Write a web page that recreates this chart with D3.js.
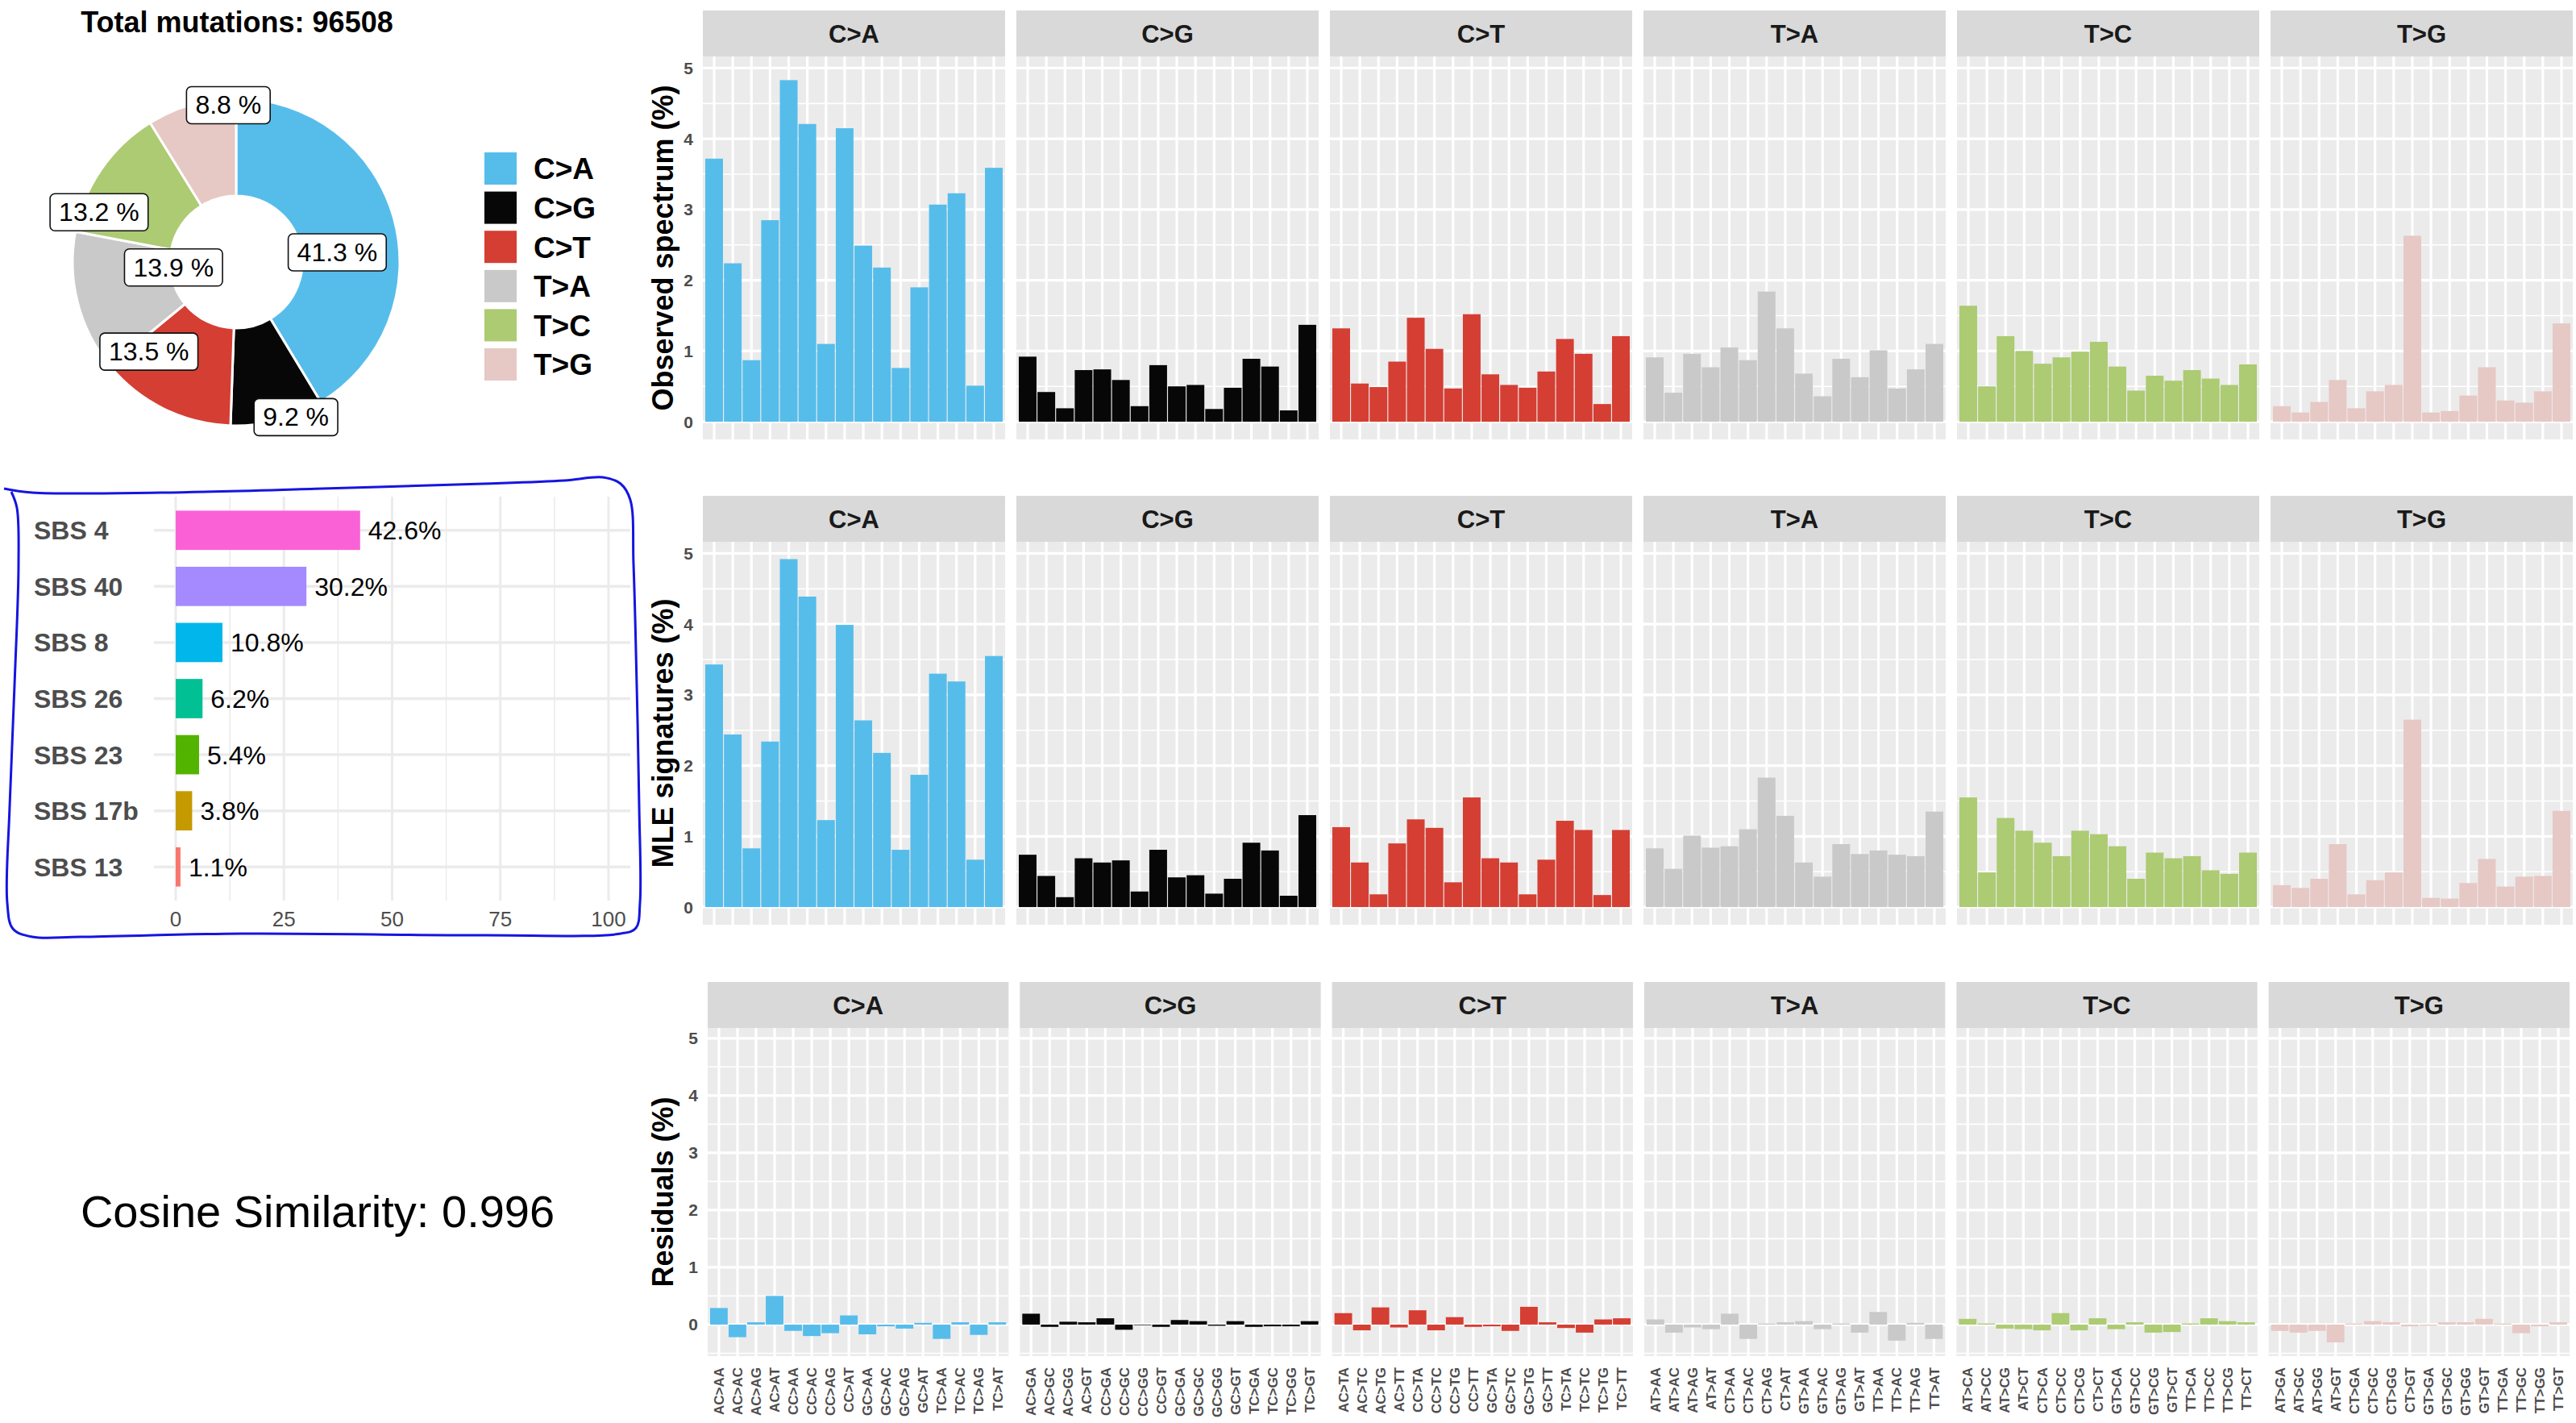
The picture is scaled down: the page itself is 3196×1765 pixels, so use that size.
<!DOCTYPE html>
<html>
<head>
<meta charset="utf-8">
<script src="https://cdn.jsdelivr.net/npm/d3@7"></script>
<style>
  body { margin: 0; background: #fff; }
  text { font-family: "Liberation Sans", Arial, sans-serif; }
</style>
</head>
<body>
<script>
// chart data
const totalMutations = 96508;
const mutationTypes = ["C>A", "C>G", "C>T", "T>A", "T>C", "T>G"];
const typeColors = ["#56BDEB", "#070707", "#D53E33", "#CAC9C9", "#ACCB73", "#E6C8C5"];
const typeShares = [41.3, 9.2, 13.5, 13.9, 13.2, 8.8];

const signatures = ["SBS 4", "SBS 40", "SBS 8", "SBS 26", "SBS 23", "SBS 17b", "SBS 13"];
const signatureShares = [42.6, 30.2, 10.8, 6.2, 5.4, 3.8, 1.1];
const signatureColors = ["#FB61D7", "#A58AFF", "#00B6EB", "#00C094", "#53B400", "#C49A00", "#F8766D"];
const contributionTicks = [0, 25, 50, 75, 100];
const cosineSimilarity = 0.996;

const spectrumTicks = [0, 1, 2, 3, 4, 5];
const contexts = [
  ["AC>AA","AC>AC","AC>AG","AC>AT","CC>AA","CC>AC","CC>AG","CC>AT","GC>AA","GC>AC","GC>AG","GC>AT","TC>AA","TC>AC","TC>AG","TC>AT"],
  ["AC>GA","AC>GC","AC>GG","AC>GT","CC>GA","CC>GC","CC>GG","CC>GT","GC>GA","GC>GC","GC>GG","GC>GT","TC>GA","TC>GC","TC>GG","TC>GT"],
  ["AC>TA","AC>TC","AC>TG","AC>TT","CC>TA","CC>TC","CC>TG","CC>TT","GC>TA","GC>TC","GC>TG","GC>TT","TC>TA","TC>TC","TC>TG","TC>TT"],
  ["AT>AA","AT>AC","AT>AG","AT>AT","CT>AA","CT>AC","CT>AG","CT>AT","GT>AA","GT>AC","GT>AG","GT>AT","TT>AA","TT>AC","TT>AG","TT>AT"],
  ["AT>CA","AT>CC","AT>CG","AT>CT","CT>CA","CT>CC","CT>CG","CT>CT","GT>CA","GT>CC","GT>CG","GT>CT","TT>CA","TT>CC","TT>CG","TT>CT"],
  ["AT>GA","AT>GC","AT>GG","AT>GT","CT>GA","CT>GC","CT>GG","CT>GT","GT>GA","GT>GC","GT>GG","GT>GT","TT>GA","TT>GC","TT>GG","TT>GT"]
];
const observed = [
  [3.72, 2.24, 0.87, 2.85, 4.83, 4.21, 1.10, 4.15, 2.49, 2.18, 0.76, 1.90, 3.07, 3.23, 0.51, 3.59],
  [0.92, 0.42, 0.19, 0.73, 0.74, 0.59, 0.22, 0.80, 0.50, 0.52, 0.18, 0.48, 0.89, 0.78, 0.16, 1.37],
  [1.32, 0.54, 0.49, 0.85, 1.47, 1.03, 0.47, 1.52, 0.67, 0.52, 0.48, 0.71, 1.17, 0.96, 0.25, 1.21],
  [0.91, 0.41, 0.96, 0.77, 1.05, 0.87, 1.84, 1.32, 0.68, 0.36, 0.89, 0.63, 1.01, 0.47, 0.74, 1.10],
  [1.64, 0.50, 1.21, 1.00, 0.82, 0.91, 0.99, 1.13, 0.78, 0.44, 0.65, 0.58, 0.73, 0.61, 0.52, 0.81],
  [0.22, 0.13, 0.28, 0.59, 0.19, 0.43, 0.52, 2.63, 0.13, 0.15, 0.37, 0.77, 0.30, 0.27, 0.43, 1.39]
];
const fitted = [
  [3.43, 2.44, 0.83, 2.34, 4.92, 4.39, 1.23, 3.99, 2.64, 2.18, 0.81, 1.87, 3.30, 3.19, 0.67, 3.55],
  [0.74, 0.44, 0.14, 0.69, 0.63, 0.66, 0.22, 0.81, 0.42, 0.45, 0.19, 0.40, 0.91, 0.80, 0.16, 1.30],
  [1.13, 0.63, 0.18, 0.90, 1.24, 1.12, 0.35, 1.55, 0.69, 0.63, 0.18, 0.67, 1.22, 1.09, 0.17, 1.09],
  [0.83, 0.54, 1.01, 0.84, 0.86, 1.10, 1.83, 1.29, 0.63, 0.43, 0.89, 0.75, 0.80, 0.74, 0.72, 1.35],
  [1.55, 0.49, 1.26, 1.08, 0.91, 0.72, 1.08, 1.03, 0.86, 0.40, 0.77, 0.69, 0.72, 0.52, 0.47, 0.77],
  [0.31, 0.27, 0.40, 0.89, 0.18, 0.38, 0.49, 2.65, 0.13, 0.12, 0.34, 0.68, 0.29, 0.43, 0.44, 1.36]
];
const residuals = [
  [0.29, -0.22, 0.04, 0.50, -0.11, -0.20, -0.15, 0.16, -0.17, -0.03, -0.07, 0.03, -0.25, 0.04, -0.18, 0.04],
  [0.19, -0.04, 0.05, 0.04, 0.11, -0.09, -0.01, -0.04, 0.08, 0.06, -0.02, 0.06, -0.04, -0.03, -0.03, 0.06],
  [0.20, -0.10, 0.30, -0.05, 0.25, -0.10, 0.13, -0.04, -0.03, -0.11, 0.31, 0.04, -0.06, -0.14, 0.09, 0.11],
  [0.09, -0.14, -0.05, -0.08, 0.19, -0.25, 0.02, 0.04, 0.06, -0.08, 0.02, -0.14, 0.22, -0.28, 0.03, -0.25],
  [0.10, 0.02, -0.07, -0.08, -0.10, 0.20, -0.10, 0.11, -0.08, 0.04, -0.14, -0.13, 0.02, 0.11, 0.06, 0.04],
  [-0.11, -0.14, -0.11, -0.31, 0.02, 0.06, 0.04, -0.03, -0.02, 0.04, 0.04, 0.10, 0.02, -0.15, -0.03, 0.04]
];

// layout
const W = 3196, H = 1765;
const GREY = "#4D4D4D";
// label nudges around the donut (repelled positions): radius and angle shift in degrees
const pieLabelNudge = [
  { r: 126, da: 10 }, { r: 206, da: -6.5 }, { r: 155, da: 18 },
  { r: 78, da: 9.5 }, { r: 181, da: -14.5 }, { r: 195, da: 13 }
];

const svg = d3.select("body").append("svg")
    .attr("width", W)
    .attr("height", H);

svg.append("rect").attr("width", W).attr("height", H).attr("fill", "#fff");

// ---------- donut of mutation types ----------
svg.append("text")
    .attr("x", 294)
    .attr("y", 40)
    .attr("text-anchor", "middle")
    .attr("font-size", 36)
    .attr("font-weight", "bold")
    .text(`Total mutations: ${totalMutations}`);

const pieG = svg.append("g").attr("transform", "translate(293,325)");
const arcs = d3.pie().sort(null).value(d => d)(typeShares);
const arc = d3.arc().innerRadius(82).outerRadius(203);

pieG.selectAll("path")
  .data(arcs)
  .join("path")
    .attr("d", arc)
    .attr("fill", (d, i) => typeColors[i])
    .attr("stroke", "#fff")
    .attr("stroke-width", 3);

const pieLabels = pieG.selectAll("g.pie-label")
  .data(arcs)
  .join("g")
    .attr("class", "pie-label")
    .attr("transform", (d, i) => {
      const a = (d.startAngle + d.endAngle) / 2 + pieLabelNudge[i].da * Math.PI / 180;
      const r = pieLabelNudge[i].r;
      return `translate(${Math.sin(a) * r},${-Math.cos(a) * r})`;
    });

pieLabels.append("text")
    .attr("text-anchor", "middle")
    .attr("dy", "0.35em")
    .attr("font-size", 32)
    .text(d => `${d.data} %`);

pieLabels.each(function() {
  const g = d3.select(this);
  const b = g.select("text").node().getBBox();
  g.insert("rect", "text")
      .attr("x", b.x - 11)
      .attr("y", b.y - 5)
      .attr("width", b.width + 22)
      .attr("height", b.height + 10)
      .attr("rx", 6)
      .attr("fill", "#fff")
      .attr("stroke", "#111")
      .attr("stroke-width", 1.6);
});

// legend
const legend = svg.append("g").attr("transform", "translate(601,189)");
const legendItem = legend.selectAll("g")
  .data(mutationTypes)
  .join("g")
    .attr("transform", (d, i) => `translate(0,${i * 48.6})`);
legendItem.append("rect")
    .attr("width", 40)
    .attr("height", 40)
    .attr("fill", (d, i) => typeColors[i]);
legendItem.append("text")
    .attr("x", 61)
    .attr("y", 20)
    .attr("dy", "0.36em")
    .attr("font-size", 37)
    .attr("font-weight", "bold")
    .text(d => d);

// ---------- signature contributions ----------
const cx = d3.scaleLinear().domain([0, 100]).range([218, 755]);
const cy = d3.scalePoint().domain(signatures).range([616, 1117]).padding(0.6);
const barH = cy.step() * 0.7;

const contrib = svg.append("g");

// minor and major grid
contrib.selectAll("line.minor")
  .data(d3.range(12.5, 100, 25))
  .join("line")
    .attr("x1", d => cx(d)).attr("x2", d => cx(d))
    .attr("y1", 616).attr("y2", 1117)
    .attr("stroke", "#EBEBEB").attr("stroke-width", 1.5);
contrib.selectAll("line.major")
  .data(contributionTicks)
  .join("line")
    .attr("x1", d => cx(d)).attr("x2", d => cx(d))
    .attr("y1", 616).attr("y2", 1117)
    .attr("stroke", "#EBEBEB").attr("stroke-width", 3);
contrib.selectAll("line.hgrid")
  .data(signatures)
  .join("line")
    .attr("x1", 191).attr("x2", 782)
    .attr("y1", d => cy(d)).attr("y2", d => cy(d))
    .attr("stroke", "#EBEBEB").attr("stroke-width", 3.5);

contrib.selectAll("rect")
  .data(signatures)
  .join("rect")
    .attr("x", cx(0))
    .attr("y", d => cy(d) - barH / 2)
    .attr("width", (d, i) => cx(signatureShares[i]) - cx(0))
    .attr("height", barH)
    .attr("fill", (d, i) => signatureColors[i]);

contrib.selectAll("text.value")
  .data(signatures)
  .join("text")
    .attr("x", (d, i) => cx(signatureShares[i]) + 10)
    .attr("y", d => cy(d))
    .attr("dy", "0.36em")
    .attr("font-size", 32)
    .text((d, i) => `${signatureShares[i]}%`);

contrib.selectAll("text.sig")
  .data(signatures)
  .join("text")
    .attr("x", 42)
    .attr("y", d => cy(d))
    .attr("dy", "0.36em")
    .attr("font-size", 32)
    .attr("font-weight", "bold")
    .attr("fill", GREY)
    .text(d => d);

contrib.selectAll("text.tick")
  .data(contributionTicks)
  .join("text")
    .attr("x", d => cx(d))
    .attr("y", 1140)
    .attr("dy", "0.36em")
    .attr("text-anchor", "middle")
    .attr("font-size", 26)
    .attr("fill", GREY)
    .text(d => d);

// hand drawn outline round the contributions
const outline = [[5,606],[40,611],[200,611],[400,606],[600,600],[700,596],[748,592],[770,600],[782,620],
  [786,700],[790,850],[793,1000],[794,1120],[789,1151],[770,1158],[600,1160],[300,1158],[100,1162],
  [40,1162],[16,1152],[9,1120],[12,1000],[18,850],[23,700],[21,630],[14,610]];
svg.append("path")
    .attr("d", d3.line().curve(d3.curveCatmullRom)(outline))
    .attr("fill", "none")
    .attr("stroke", "#1515E0")
    .attr("stroke-width", 3);

svg.append("text")
    .attr("x", 394)
    .attr("y", 1502)
    .attr("dy", "0.36em")
    .attr("text-anchor", "middle")
    .attr("font-size", 56)
    .text(`Cosine Similarity: ${cosineSimilarity}`);

// ---------- faceted spectra ----------
const rows = [
  { title: "Observed spectrum (%)", values: observed, stripTop: 13, top: 70, bottom: 545, left: 872, right: 3192, domain: [-0.25, 5.165], xLabels: false },
  { title: "MLE signatures (%)", values: fitted, stripTop: 615, top: 672, bottom: 1147, left: 872, right: 3192, domain: [-0.25, 5.165], xLabels: false },
  { title: "Residuals (%)", values: residuals, stripTop: 1218, top: 1275, bottom: 1682, left: 878, right: 3188, domain: [-0.55, 5.18], xLabels: true }
];
const gap = 14;

rows.forEach(row => {
  const g = svg.append("g");
  const pw = (row.right - row.left - gap * 5) / 6;
  const y = d3.scaleLinear().domain(row.domain).range([row.bottom, row.top]);
  const minorTicks = d3.range(-0.5, 5.5, 1).filter(v => v > row.domain[0] && v < row.domain[1]);

  mutationTypes.forEach((type, p) => {
    const x0 = row.left + p * (pw + gap);
    const x = d3.scaleBand()
        .domain(contexts[p])
        .range([x0, x0 + pw])
        .paddingInner(0.05)
        .paddingOuter(0.13);
    const panel = g.append("g");

    // strip
    panel.append("rect")
        .attr("x", x0).attr("y", row.stripTop)
        .attr("width", pw).attr("height", row.top - row.stripTop)
        .attr("fill", "#D9D9D9");
    panel.append("text")
        .attr("x", x0 + pw / 2)
        .attr("y", (row.stripTop + row.top) / 2)
        .attr("dy", "0.36em")
        .attr("text-anchor", "middle")
        .attr("font-size", 31)
        .attr("font-weight", "bold")
        .attr("fill", "#1A1A1A")
        .text(type);

    // panel background and grid
    panel.append("rect")
        .attr("x", x0).attr("y", row.top)
        .attr("width", pw).attr("height", row.bottom - row.top)
        .attr("fill", "#EBEBEB");
    panel.selectAll("line.minor")
      .data(minorTicks)
      .join("line")
        .attr("x1", x0).attr("x2", x0 + pw)
        .attr("y1", d => y(d)).attr("y2", d => y(d))
        .attr("stroke", "#fff").attr("stroke-width", 1.6);
    panel.selectAll("line.major")
      .data(spectrumTicks)
      .join("line")
        .attr("x1", x0).attr("x2", x0 + pw)
        .attr("y1", d => y(d)).attr("y2", d => y(d))
        .attr("stroke", "#fff").attr("stroke-width", 3.2);
    panel.selectAll("line.vgrid")
      .data(contexts[p])
      .join("line")
        .attr("x1", d => x(d) + x.bandwidth() / 2).attr("x2", d => x(d) + x.bandwidth() / 2)
        .attr("y1", row.top).attr("y2", row.bottom)
        .attr("stroke", "#fff").attr("stroke-width", 3.2);

    // bars
    panel.selectAll("rect.bar")
      .data(contexts[p])
      .join("rect")
        .attr("x", d => x(d))
        .attr("width", x.bandwidth())
        .attr("y", (d, i) => y(Math.max(0, row.values[p][i])))
        .attr("height", (d, i) => Math.abs(y(row.values[p][i]) - y(0)))
        .attr("fill", typeColors[p]);

    // context labels
    if (row.xLabels) {
      panel.selectAll("text.ctx")
        .data(contexts[p])
        .join("text")
          .attr("transform", d => `translate(${x(d) + x.bandwidth() / 2},${row.bottom + 14}) rotate(-90)`)
          .attr("dy", "0.36em")
          .attr("text-anchor", "end")
          .attr("font-size", 17)
          .attr("font-weight", "bold")
          .attr("fill", GREY)
          .text(d => d);
    }
  });

  // y axis labels
  g.selectAll("text.ytick")
    .data(spectrumTicks)
    .join("text")
      .attr("x", row.left - 12)
      .attr("y", d => y(d))
      .attr("dy", "0.36em")
      .attr("text-anchor", "end")
      .attr("font-size", 21)
      .attr("font-weight", "bold")
      .attr("fill", GREY)
      .text(d => d);

  g.append("text")
      .attr("transform", `translate(822,${(row.top + row.bottom) / 2}) rotate(-90)`)
      .attr("dy", "0.36em")
      .attr("text-anchor", "middle")
      .attr("font-size", 36)
      .attr("font-weight", "bold")
      .text(row.title);
});
</script>
</body>
</html>
